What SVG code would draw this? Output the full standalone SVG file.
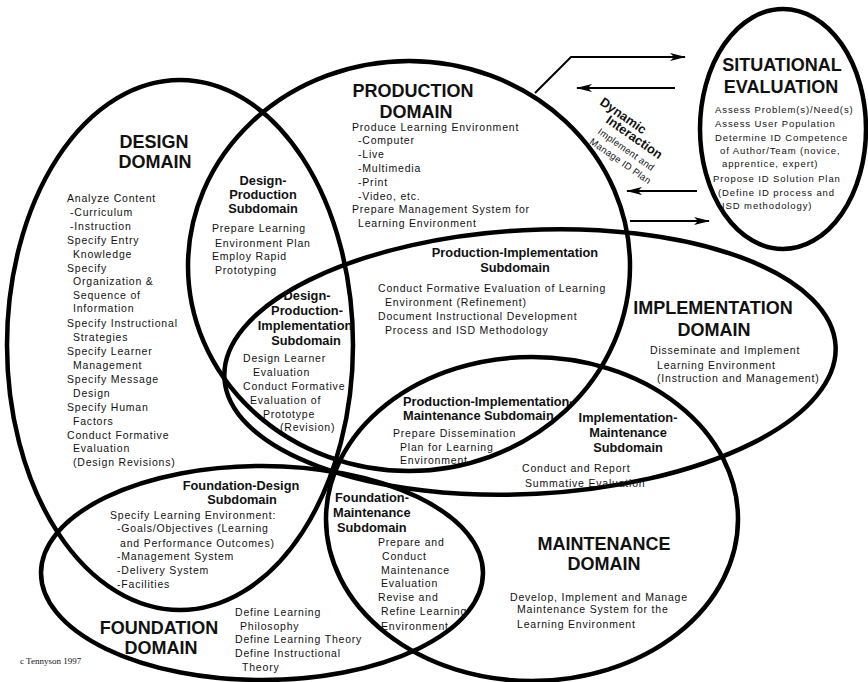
<svg xmlns="http://www.w3.org/2000/svg" width="868" height="682" viewBox="0 0 868 682">
<style>
.dom{fill:none;stroke:#000;stroke-width:4.5}
.h{font-family:"Liberation Sans",Arial,sans-serif;font-weight:bold;font-size:18px;fill:#111;text-anchor:middle}
.sh{font-family:"Liberation Sans",Arial,sans-serif;font-weight:bold;font-size:12.8px;fill:#111}
.b{font-family:"Liberation Sans",Arial,sans-serif;font-size:10.5px;letter-spacing:0.8px;fill:#111}
.s{font-family:"Liberation Sans",Arial,sans-serif;font-size:9.5px;letter-spacing:0.9px;fill:#111}
.m{text-anchor:middle}
.arr{fill:none;stroke:#000;stroke-width:2}
.cp{font-family:"Liberation Serif","Times New Roman",serif;font-size:9px;fill:#111}
</style>
<defs>
<marker id="ah" viewBox="0 0 16 8" refX="15" refY="4" markerWidth="16" markerHeight="8" markerUnits="userSpaceOnUse" orient="auto">
<path d="M0,0 L16,4 L0,8 L4,4 z" fill="#000"/>
</marker>
</defs>
<rect width="868" height="682" fill="#fff"/>

<g id="design-domain">
<ellipse class="dom" cx="180" cy="345" rx="173" ry="265"/>
<text class="h" x="154" y="148">DESIGN</text>
<text class="h" x="155" y="168">DOMAIN</text>
<text class="b" x="67" y="202">Analyze Content</text>
<text class="b" x="70" y="216">-Curriculum</text>
<text class="b" x="70" y="230">-Instruction</text>
<text class="b" x="67" y="244">Specify Entry</text>
<text class="b" x="73" y="258">Knowledge</text>
<text class="b" x="67" y="272">Specify</text>
<text class="b" x="73" y="285">Organization &amp;</text>
<text class="b" x="73" y="299">Sequence of</text>
<text class="b" x="73" y="312">Information</text>
<text class="b" x="67" y="327">Specify Instructional</text>
<text class="b" x="73" y="341">Strategies</text>
<text class="b" x="67" y="355">Specify Learner</text>
<text class="b" x="73" y="369">Management</text>
<text class="b" x="67" y="383">Specify Message</text>
<text class="b" x="73" y="397">Design</text>
<text class="b" x="67" y="411">Specify Human</text>
<text class="b" x="73" y="425">Factors</text>
<text class="b" x="67" y="439">Conduct Formative</text>
<text class="b" x="73" y="452">Evaluation</text>
<text class="b" x="73" y="466">(Design Revisions)</text>
</g>

<g id="production-domain">
<ellipse class="dom" cx="409" cy="266" rx="221" ry="205"/>
<text class="h" x="413" y="97">PRODUCTION</text>
<text class="h" x="416" y="118">DOMAIN</text>
<text class="b" x="352" y="131">Produce Learning Environment</text>
<text class="b" x="358" y="144">-Computer</text>
<text class="b" x="358" y="158">-Live</text>
<text class="b" x="358" y="172">-Multimedia</text>
<text class="b" x="358" y="186">-Print</text>
<text class="b" x="358" y="200">-Video, etc.</text>
<text class="b" x="352" y="213">Prepare Management System for</text>
<text class="b" x="358" y="227">Learning Environment</text>
</g>

<g id="implementation-domain">
<ellipse class="dom" cx="530" cy="362" rx="306" ry="132" transform="rotate(-3 530 362)"/>
<text class="h" x="713" y="314">IMPLEMENTATION</text>
<text class="h" x="714" y="336">DOMAIN</text>
<text class="b" x="650" y="354">Disseminate and Implement</text>
<text class="b" x="657" y="369">Learning Environment</text>
<text class="b" x="657" y="382">(Instruction and Management)</text>
</g>

<g id="maintenance-domain">
<ellipse class="dom" cx="532" cy="519" rx="206" ry="162"/>
<text class="h" x="604" y="550">MAINTENANCE</text>
<text class="h" x="604" y="570">DOMAIN</text>
<text class="b" x="510" y="601">Develop, Implement and Manage</text>
<text class="b" x="517" y="613">Maintenance System  for the</text>
<text class="b" x="517" y="628">Learning Environment</text>
</g>

<g id="foundation-domain">
<ellipse class="dom" cx="262" cy="573" rx="221" ry="107"/>
<text class="h" x="159" y="634">FOUNDATION</text>
<text class="h" x="161" y="654">DOMAIN</text>
<text class="b" x="235" y="616">Define Learning</text>
<text class="b" x="240" y="630">Philosophy</text>
<text class="b" x="235" y="643">Define Learning Theory</text>
<text class="b" x="235" y="657">Define Instructional</text>
<text class="b" x="242" y="671">Theory</text>
</g>

<g id="situational-evaluation">
<ellipse class="dom" cx="783" cy="129" rx="83" ry="120"/>
<text class="h" x="782" y="71">SITUATIONAL</text>
<text class="h" x="781" y="93">EVALUATION</text>
<text class="s" x="715" y="113">Assess Problem(s)/Need(s)</text>
<text class="s" x="715" y="127">Assess User Population</text>
<text class="s" x="715" y="141">Determine ID Competence</text>
<text class="s" x="720" y="154">of Author/Team (novice,</text>
<text class="s" x="722" y="167">apprentice, expert)</text>
<text class="s" x="713" y="182">Propose ID Solution Plan</text>
<text class="s" x="718" y="196">(Define ID process and</text>
<text class="s" x="722" y="209">ISD methodology)</text>
</g>

<g id="design-production-subdomain">
<text class="sh m" x="263" y="185">Design-</text>
<text class="sh m" x="263" y="199">Production</text>
<text class="sh m" x="263" y="213">Subdomain</text>
<text class="b" x="212" y="232">Prepare Learning</text>
<text class="b" x="215" y="247">Environment Plan</text>
<text class="b" x="212" y="260">Employ Rapid</text>
<text class="b" x="215" y="274">Prototyping</text>
</g>

<g id="design-production-implementation-subdomain">
<text class="sh m" x="307" y="300">Design-</text>
<text class="sh m" x="307" y="315">Production-</text>
<text class="sh m" x="305" y="330">Implementation</text>
<text class="sh m" x="306" y="345">Subdomain</text>
<text class="b" x="243" y="362">Design Learner</text>
<text class="b" x="253" y="376">Evaluation</text>
<text class="b" x="243" y="390">Conduct Formative</text>
<text class="b" x="250" y="404">Evaluation of</text>
<text class="b" x="263" y="418">Prototype</text>
<text class="b" x="280" y="431">(Revision)</text>
</g>

<g id="production-implementation-subdomain">
<text class="sh m" x="515" y="257">Production-Implementation</text>
<text class="sh m" x="515" y="272">Subdomain</text>
<text class="b" x="378" y="292">Conduct Formative Evaluation of Learning</text>
<text class="b" x="385" y="306">Environment (Refinement)</text>
<text class="b" x="378" y="320">Document Instructional Development</text>
<text class="b" x="385" y="334">Process and ISD Methodology</text>
</g>

<g id="production-implementation-maintenance-subdomain">
<text class="sh" x="403" y="406">Production-Implementation-</text>
<text class="sh" x="403" y="420">Maintenance Subdomain</text>
<text class="b" x="393" y="437">Prepare Dissemination</text>
<text class="b" x="400" y="451">Plan for Learning</text>
<text class="b" x="400" y="464">Environment</text>
</g>

<g id="implementation-maintenance-subdomain">
<text class="sh m" x="628" y="422">Implementation-</text>
<text class="sh m" x="628" y="437">Maintenance</text>
<text class="sh m" x="628" y="452">Subdomain</text>
<text class="b" x="522" y="472">Conduct and Report</text>
<text class="b" x="525" y="487">Summative Evaluation</text>
</g>

<g id="foundation-design-subdomain">
<text class="sh m" x="241" y="490">Foundation-Design</text>
<text class="sh m" x="242" y="504">Subdomain</text>
<text class="b" x="110" y="519">Specify Learning Environment:</text>
<text class="b" x="117" y="532">-Goals/Objectives (Learning</text>
<text class="b" x="120" y="547">and Performance Outcomes)</text>
<text class="b" x="117" y="560">-Management System</text>
<text class="b" x="117" y="574">-Delivery System</text>
<text class="b" x="117" y="588">-Facilities</text>
</g>

<g id="foundation-maintenance-subdomain">
<text class="sh" x="335" y="502">Foundation-</text>
<text class="sh" x="333" y="517">Maintenance</text>
<text class="sh" x="337" y="532">Subdomain</text>
<text class="b" x="378" y="546">Prepare and</text>
<text class="b" x="382" y="560">Conduct</text>
<text class="b" x="381" y="574">Maintenance</text>
<text class="b" x="381" y="587">Evaluation</text>
<text class="b" x="378" y="601">Revise and</text>
<text class="b" x="381" y="615">Refine Learning</text>
<text class="b" x="381" y="630">Environment</text>
</g>

<g id="connectors">
<polyline class="arr" points="535,93 571,57 685,57" marker-end="url(#ah)"/>
<line class="arr" x1="675" y1="88" x2="577" y2="88" marker-end="url(#ah)"/>
<line class="arr" x1="697" y1="191" x2="627" y2="191" marker-end="url(#ah)"/>
<line class="arr" x1="630" y1="221" x2="709" y2="221" marker-end="url(#ah)"/>
<text class="sh" font-size="14.5" transform="translate(599,104) rotate(35)">Dynamic</text>
<text class="sh" font-size="14.5" transform="translate(605,122) rotate(35)">Interaction</text>
<text class="s" style="letter-spacing:0.3px" transform="translate(597,133) rotate(35)">Implement and</text>
<text class="s" style="letter-spacing:0.3px" transform="translate(589,143) rotate(35)">Manage ID Plan</text>
</g>

<text class="cp" x="20" y="664">c Tennyson 1997</text>
</svg>
